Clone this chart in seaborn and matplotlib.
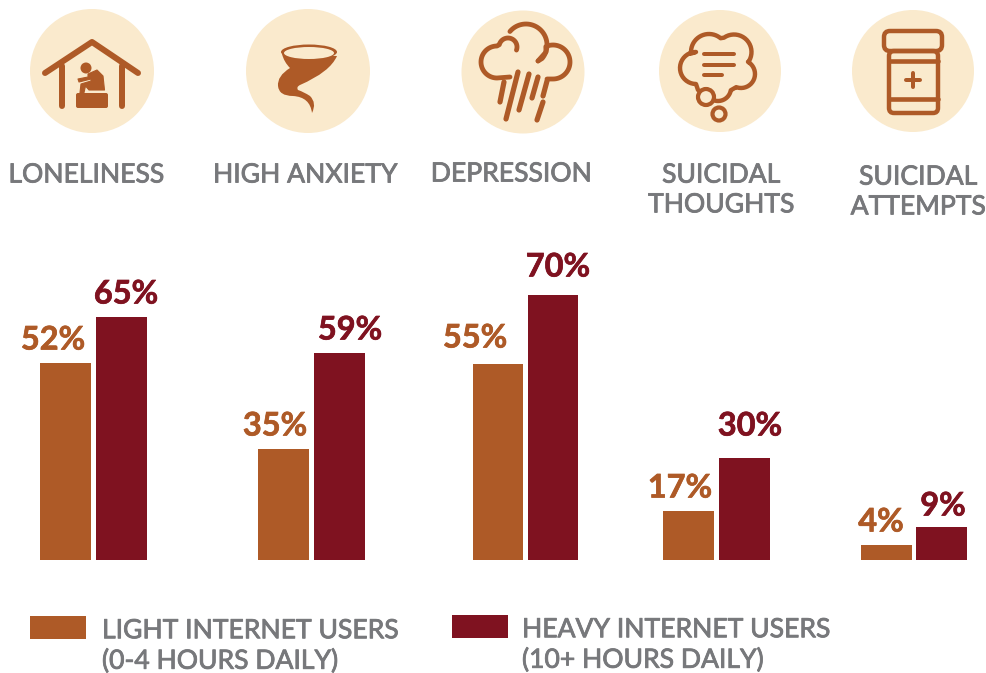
import matplotlib
matplotlib.use("Agg")
import matplotlib.pyplot as plt
import matplotlib.patheffects as pe
from matplotlib.patches import Circle, Rectangle, Ellipse, FancyBboxPatch, PathPatch, Polygon
from matplotlib.path import Path
import numpy as np
import pandas as pd
import seaborn as sns

# ---------- data ----------
groups = ["LONELINESS", "HIGH ANXIETY", "DEPRESSION", "SUICIDAL\nTHOUGHTS", "SUICIDAL\nATTEMPTS"]
light_labels = ["52%", "35%", "55%", "17%", "4%"]
heavy_labels = ["65%", "59%", "70%", "30%", "9%"]
# bar heights as drawn in the picture (the original is not strictly to scale)
light_heights = [52.0, 29.3, 51.8, 12.9, 4.0]
heavy_heights = [64.1, 54.6, 69.9, 26.9, 8.7]
series = ["LIGHT INTERNET USERS\n(0-4 HOURS DAILY)", "HEAVY INTERNET USERS\n(10+ HOURS DAILY)"]

# ---------- style ----------
ORANGE = "#AE5A27"
RED = "#7F1220"
CREAM = "#FAEACD"
GREY = "#77787B"
W, H = 986, 673
sns.set_theme(style="white")
plt.rcParams["font.family"] = ["Lato", "DejaVu Sans"]

fig = plt.figure(figsize=(W / 100, H / 100), dpi=100, facecolor="white")

ov = fig.add_axes([0, 0, 1, 1], zorder=5)
ov.set_xlim(0, W)
ov.set_ylim(H, 0)
ov.axis("off")
ov.patch.set_alpha(0)

# ---------- bars ----------
BASE_Y = 560
PX_PER_UNIT = 3.79
spans = [(40, 147), (258, 365), (473, 578), (663, 770), (861, 967)]
for (x0, x1), a, b in zip(spans, light_heights, heavy_heights):
    ax = fig.add_axes([x0 / W, 1 - BASE_Y / H, (x1 - x0) / W, BASE_Y / H], zorder=1)
    df = pd.DataFrame({"series": series, "value": [a, b]})
    sns.barplot(data=df, x="series", y="value", hue="series", order=series, hue_order=series,
                palette=[ORANGE, RED], width=0.91, dodge=False, legend=False, ax=ax, saturation=1,
                linewidth=0)
    ax.set_xlim(-0.455, 1.455)
    ax.set_ylim(0, BASE_Y / PX_PER_UNIT)
    ax.axis("off")

# ---------- value labels ----------
light_pos = [(53, 340), (275, 426), (475, 338), (680, 488), (881, 522)]
heavy_pos = [(126, 294), (350, 330), (558, 267), (750, 426), (943, 506)]
for txts, pos, c in ((light_labels, light_pos, ORANGE), (heavy_labels, heavy_pos, RED)):
    for t, (x, y) in zip(txts, pos):
        ov.text(x, y, t, color=c, fontsize=23.4, fontweight="bold", ha="center", va="center",
                path_effects=[pe.withStroke(linewidth=0.5, foreground=c)])

# ---------- category titles ----------
thick = [pe.withStroke(linewidth=0.6, foreground=GREY)]
title_pos = [(86, 175), (305, 175), (511, 174), (721, 190), (918, 192)]
for t, (x, y) in zip(groups, title_pos):
    ov.text(x, y, t, color=GREY, fontsize=19.1, ha="center", va="center",
            linespacing=1.24, path_effects=thick)

# ---------- legend ----------
ov.add_patch(Rectangle((30, 616), 56, 23, fc=ORANGE, ec="none"))
ov.add_patch(Rectangle((452, 615), 56, 23, fc=RED, ec="none"))
ov.text(102, 646, series[0], color=GREY, fontsize=19.1, ha="left", va="center", linespacing=1.27, path_effects=thick)
ov.text(522, 645, series[1], color=GREY, fontsize=19.1, ha="left", va="center", linespacing=1.27, path_effects=thick)

# ---------- icons ----------
for cx, cy, r in [(92, 71, 62), (308, 71, 62), (523, 72, 61.5), (720, 71, 61), (913, 71, 61)]:
    ov.add_patch(Circle((cx, cy), r, fc=CREAM, ec="none"))

M, C3 = Path.MOVETO, Path.CURVE3

def stroke(xs, ys, lw=4, c=ORANGE):
    ov.plot(xs, ys, color=c, lw=lw * 0.72, solid_capstyle="round", solid_joinstyle="round")

def arc(cx, cy, r, t0, t1):
    t = np.radians(np.linspace(t0, t1, 40))
    return np.c_[cx + r * np.cos(t), cy - r * np.sin(t)]

def outline(*parts, lw=4.8):
    pts = np.vstack([np.atleast_2d(p) for p in parts])
    stroke(pts[:, 0], pts[:, 1], lw)

# house
stroke([45, 92, 138], [73, 42, 73], 6)
stroke([62, 62], [66, 106], 6)
stroke([122, 122], [66, 106], 6)
ov.add_patch(Circle((86, 68), 5.5, fc=ORANGE, ec="none"))
ov.add_patch(Polygon([(88, 74), (97, 70), (103, 76), (104.5, 90), (89, 90), (85.5, 86), (83, 97), (79.5, 97),
                      (81, 84), (91, 81), (91, 79), (79, 82), (78, 79), (88, 77)], closed=True,
                     fc=ORANGE, ec=ORANGE, lw=0.8, joinstyle="round"))
ov.add_patch(FancyBboxPatch((76, 93), 32, 15, boxstyle="round,pad=0,rounding_size=2", fc=ORANGE, ec="none"))

# tornado
ov.add_patch(PathPatch(Path(
    [(282, 54), (284, 62), (290, 68), (277, 76), (278, 86), (279, 96), (293, 96), (310, 97), (312, 113),
     (317, 103), (310, 96), (304, 92), (298, 90), (296, 87), (300, 85), (330, 72), (337, 56), (282, 54)],
    [M, C3, C3, C3, C3, C3, C3, C3, C3, C3, C3, C3, C3, C3, C3, C3, C3, Path.CLOSEPOLY]),
    fc=ORANGE, ec="none"))
ov.add_patch(Ellipse((309, 52), 56, 15, fc=ORANGE, ec="none"))
ov.add_patch(Ellipse((309, 53), 50, 12, fc=CREAM, ec="none"))

# rain cloud
outline([(510, 77)], arc(497, 62, 16, -90, -270), arc(508, 47, 9, 165, -20))
outline(arc(526, 45, 21, 140, -40), [(538, 61)])
outline([(538, 61), (546, 52)], arc(553, 62, 17, 115, -90), [(547, 79)])
for x0, y0, x1, y1 in [(504, 82, 500, 102), (518, 72, 506, 119), (529, 74, 519, 110), (538, 77, 532, 98),
                       (547, 81, 543, 96), (543, 102, 537, 120)]:
    stroke([x0, x1], [y0, y1], 5.2)

# thought bubble
outline([(698, 90), (696, 84)], arc(696, 68, 16, -90, -270), arc(709, 52, 18, 185, 50),
        arc(734, 52, 17.5, 125, -35), arc(741, 74, 14, 60, -110), arc(718, 88, 13, -10, -103), lw=4.4)
ov.add_patch(Circle((706, 97), 8, fc=CREAM, ec=ORANGE, lw=3))
ov.add_patch(Circle((719, 114), 6.5, fc=CREAM, ec=ORANGE, lw=3))
stroke([704, 734], [54, 54], 4)
stroke([704, 734], [65, 65], 4)
stroke([704, 722], [75, 75], 4)

# pill bottle
ov.add_patch(FancyBboxPatch((884, 31), 58, 20, boxstyle="round,pad=0,rounding_size=6", fc="none", ec=ORANGE, lw=3.2))
ov.add_patch(FancyBboxPatch((889, 51), 49, 62, boxstyle="round,pad=0,rounding_size=5", fc="none", ec=ORANGE, lw=3.2))
stroke([889, 938], [61, 61], 4.6)
stroke([889, 938], [99, 99], 4.6)
stroke([913, 913], [73, 87], 4)
stroke([906, 920], [80, 80], 4)

fig.savefig("out.png", dpi=100, facecolor="white")
